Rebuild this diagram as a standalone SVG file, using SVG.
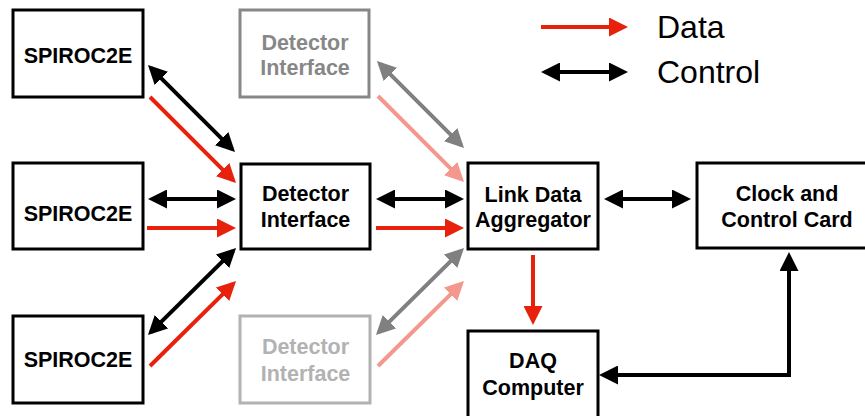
<svg xmlns="http://www.w3.org/2000/svg" width="865" height="416" viewBox="0 0 865 416">
<style>
  .box { fill: #ffffff; stroke: #000000; stroke-width: 3; }
  .box-g1 { fill: #ffffff; stroke: #878787; stroke-width: 3; }
  .box-g2 { fill: #ffffff; stroke: #b2b2b2; stroke-width: 3; }
  .lbl { font-family: "Liberation Sans", Arial, Helvetica, sans-serif; font-weight: bold; font-size: 21.5px; text-anchor: middle; fill: #000000; }
  .lbl-g1 { fill: #878787; }
  .lbl-g2 { fill: #b2b2b2; }
  .leg { font-family: "Liberation Sans", Arial, Helvetica, sans-serif; font-size: 32px; fill: #000000; }
  .c { fill: none; stroke-width: 4; }
  .blk { stroke: #000000; marker-start: url(#hb); marker-end: url(#hb); }
  .red { stroke: #e8210d; marker-end: url(#hr); }
  .pnk { stroke: #f4978d; marker-end: url(#hp); }
  .gry { stroke: #808080; marker-start: url(#hg); marker-end: url(#hg); }
</style>
<defs>
  <marker id="hb" markerUnits="userSpaceOnUse" markerWidth="19" markerHeight="19" refX="15" refY="9.5" orient="auto-start-reverse"><path d="M0,0 L19,9.5 L0,19 z" fill="#000000"/></marker>
  <marker id="hr" markerUnits="userSpaceOnUse" markerWidth="19" markerHeight="19" refX="15" refY="9.5" orient="auto-start-reverse"><path d="M0,0 L19,9.5 L0,19 z" fill="#e8210d"/></marker>
  <marker id="hp" markerUnits="userSpaceOnUse" markerWidth="19" markerHeight="19" refX="15" refY="9.5" orient="auto-start-reverse"><path d="M0,0 L19,9.5 L0,19 z" fill="#f4978d"/></marker>
  <marker id="hg" markerUnits="userSpaceOnUse" markerWidth="19" markerHeight="19" refX="15" refY="9.5" orient="auto-start-reverse"><path d="M0,0 L19,9.5 L0,19 z" fill="#808080"/></marker>
</defs>
<rect width="865" height="416" fill="#ffffff"/>

<g id="spiroc-top"><rect class="box" x="13" y="10" width="130" height="87"/><text class="lbl" x="78" y="63">SPIROC2E</text></g>
<g id="spiroc-mid"><rect class="box" x="13" y="163" width="130" height="86"/><text class="lbl" x="78" y="221">SPIROC2E</text></g>
<g id="spiroc-bot"><rect class="box" x="13" y="316" width="130" height="87"/><text class="lbl" x="78" y="367">SPIROC2E</text></g>

<g id="di-top"><rect class="box-g1" x="240" y="10" width="129" height="87"/><text class="lbl lbl-g1" x="305" y="50">Detector</text><text class="lbl lbl-g1" x="305" y="75">Interface</text></g>
<g id="di-mid"><rect class="box" x="241" y="164" width="129" height="85"/><text class="lbl" x="305.5" y="201">Detector</text><text class="lbl" x="305.5" y="227">Interface</text></g>
<g id="di-bot"><rect class="box-g2" x="240" y="316" width="130" height="87"/><text class="lbl lbl-g2" x="305.5" y="354">Detector</text><text class="lbl lbl-g2" x="305.5" y="381">Interface</text></g>

<g id="lda"><rect class="box" x="468" y="163" width="130" height="86"/><text class="lbl" x="533" y="202">Link Data</text><text class="lbl" x="533" y="227">Aggregator</text></g>
<g id="ccc"><rect class="box" x="697" y="163" width="180" height="85"/><text class="lbl" x="787" y="201">Clock and</text><text class="lbl" x="787" y="227">Control Card</text></g>
<g id="daq"><rect class="box" x="468" y="331" width="130" height="100"/><text class="lbl" x="533" y="368">DAQ</text><text class="lbl" x="533" y="395">Computer</text></g>

<g id="legend">
  <line class="c red" x1="541" y1="27" x2="624" y2="27"/>
  <line class="c blk" x1="545" y1="72" x2="624" y2="72"/>
  <text class="leg" x="657" y="38">Data</text>
  <text class="leg" x="657" y="83">Control</text>
</g>

<g id="connectors">
  <line class="c blk" x1="150.8" y1="67.8" x2="232.2" y2="149.2"/>
  <line class="c red" x1="150" y1="97" x2="233.2" y2="180.2"/>
  <line class="c blk" x1="152" y1="199" x2="232" y2="199"/>
  <line class="c red" x1="147" y1="228" x2="232" y2="228"/>
  <line class="c blk" x1="150.8" y1="332.2" x2="233.2" y2="250.8"/>
  <line class="c red" x1="150" y1="366" x2="233.2" y2="283.8"/>

  <line class="c gry" x1="379.8" y1="63.8" x2="461.2" y2="145.2"/>
  <line class="c pnk" x1="378" y1="96" x2="461.2" y2="179.2"/>
  <line class="c blk" x1="380" y1="199" x2="460" y2="199"/>
  <line class="c red" x1="376" y1="228" x2="460" y2="228"/>
  <line class="c gry" x1="378.8" y1="332.2" x2="461.2" y2="250.8"/>
  <line class="c pnk" x1="378" y1="366" x2="461.2" y2="283.8"/>

  <line class="c blk" x1="608" y1="199" x2="687" y2="199"/>
  <line class="c red" x1="533" y1="255" x2="533" y2="321"/>
  <path class="c blk" d="M603,375 H789 V256" stroke-linejoin="miter"/>
</g>
</svg>
